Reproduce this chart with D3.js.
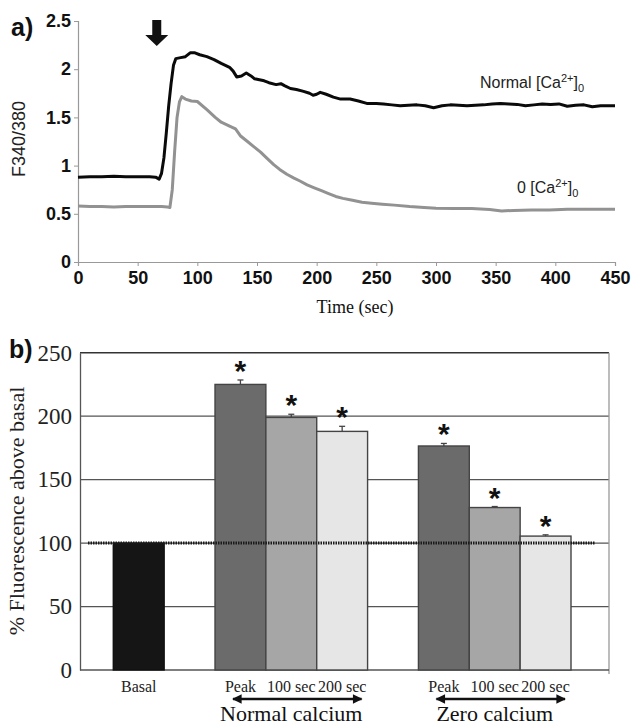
<!DOCTYPE html>
<html><head><meta charset="utf-8">
<script src="https://cdn.jsdelivr.net/npm/d3@7/dist/d3.min.js"></script>
<style>body{margin:0;background:#fff}svg{display:block}</style>
</head><body><svg id="c" width="633" height="725"></svg>
<script>
// ---------- Panel a data ----------
const timeNormal = [0,10,20,30,40,50,60,65,68,70,72,74,76,78,80,82,86,90,94,98,102,108,114,120,127,130,133,137,141,145,148,152,156,160,166,170,173,178,183,189,194,197,200,203,208,214,220,228,235,242,250,256,263,270,277,284,291,298,305,312,319,326,333,340,347,354,361,368,375,382,389,396,403,410,417,424,431,438,445,450];
const ratioNormal = [0.88,0.885,0.885,0.89,0.885,0.885,0.885,0.88,0.86,0.92,
  1.08,1.34,1.62,1.85,2.04,2.11,2.12,2.13,2.17,2.17,
  2.15,2.13,2.10,2.06,2.02,1.98,1.92,1.93,1.96,1.93,
  1.90,1.89,1.88,1.86,1.84,1.85,1.83,1.80,1.79,1.77,
  1.75,1.73,1.74,1.76,1.74,1.71,1.69,1.69,1.67,1.645,
  1.645,1.64,1.63,1.62,1.625,1.63,1.62,1.60,1.62,1.63,
  1.625,1.62,1.625,1.63,1.64,1.645,1.64,1.635,1.62,1.63,
  1.64,1.635,1.64,1.615,1.625,1.63,1.61,1.62,1.62,1.62];
const timeZero = [0,10,20,30,40,50,60,70,75,77,79,81,83,85,87,90,95,100,108,115,120,127,132,136,142,147,153,158,164,169,175,181,186,192,198,204,210,216,222,230,238,246,255,265,278,290,300,315,330,345,355,365,380,395,410,425,440,450];
const ratioZero = [0.58,0.575,0.575,0.57,0.575,0.575,0.575,0.575,0.57,0.565,
  0.75,1.15,1.50,1.66,1.715,1.69,
  1.67,1.665,1.58,1.50,1.45,1.41,1.38,1.31,
  1.25,1.20,1.14,1.08,1.01,0.96,0.91,0.87,
  0.84,0.80,0.77,0.74,0.71,0.68,0.66,0.64,
  0.62,0.61,0.60,0.59,0.575,0.565,0.557,0.555,
  0.555,0.545,0.53,0.535,0.54,0.54,0.547,0.547,
  0.547,0.547];
const aXTicks = [0,50,100,150,200,250,300,350,400,450];
const aYTicks = [0,0.5,1,1.5,2,2.5];

// ---------- Panel b data ----------
const barSlots = ["basal","gap1","nPeak","n100","n200","gap2","zPeak","z100","z200"];
const barKeys = ["basal","nPeak","n100","n200","zPeak","z100","z200"];
const barLabels = ["Basal","Peak","100 sec","200 sec","Peak","100 sec","200 sec"];
const barValues = [100,225,199,188,176.5,128,105.5];
const barErrors = [0,3.5,2.5,4,2,0.8,1];
const barSignif = [false,true,true,true,true,true,true];
const barColors = ["#151515","#6b6b6b","#a6a6a6","#e6e6e6","#6b6b6b","#a6a6a6","#e6e6e6"];
const groups = [{name:"Normal calcium", from:"nPeak", to:"n200"},{name:"Zero calcium", from:"zPeak", to:"z200"}];
const bYTicks = [0,50,100,150,200,250];
const baseline = 100;

const svg = d3.select("#c");
const SANS = "'Liberation Sans', Arial, sans-serif";
const SERIF = "'Liberation Serif', 'Times New Roman', serif";

// ================= Panel a =================
const ax = d3.scaleLinear().domain([0,450]).range([78,615]);
const ay = d3.scaleLinear().domain([0,2.5]).range([262,21]);
const ga = svg.append("g");

ga.append("g").attr("transform","translate(0,262)")
  .call(d3.axisBottom(ax).tickValues(aXTicks).tickSize(4).tickPadding(5))
  .call(g=>{g.select(".domain").attr("stroke","#999").attr("stroke-width",1.2);
    g.selectAll(".tick line").attr("stroke","#999");
    g.selectAll("text").attr("font-family",SANS).attr("font-weight","bold").attr("font-size",18).attr("fill","#111");});
ga.append("g").attr("transform","translate(78,0)")
  .call(d3.axisLeft(ay).tickValues(aYTicks).tickFormat(d3.format("~g")).tickSize(4).tickPadding(3))
  .call(g=>{g.select(".domain").attr("stroke","#999").attr("stroke-width",1.2);
    g.selectAll(".tick line").attr("stroke","#999");
    g.selectAll("text").attr("font-family",SANS).attr("font-weight","bold").attr("font-size",18).attr("fill","#111");});

const line = d3.line().x(d=>ax(d[0])).y(d=>ay(d[1]));
ga.append("path").datum(d3.zip(timeZero,ratioZero)).attr("d",line)
  .attr("fill","none").attr("stroke","#929292").attr("stroke-width",3).attr("stroke-linejoin","round");
ga.append("path").datum(d3.zip(timeNormal,ratioNormal)).attr("d",line)
  .attr("fill","none").attr("stroke","#0a0a0a").attr("stroke-width",3).attr("stroke-linejoin","round");

// arrow (stimulus)
const arrowT = 66, arrowTop = 2.5, arrowTip = 2.24;
const axc = ax(arrowT);
ga.append("path")
  .attr("d",`M${axc-4.5},${ay(arrowTop)-1} L${axc+4.5},${ay(arrowTop)-1} L${axc+4.5},${ay(arrowTip)-11} L${axc+11.5},${ay(arrowTip)-11} L${axc},${ay(arrowTip)} L${axc-11.5},${ay(arrowTip)-11} L${axc-4.5},${ay(arrowTip)-11} Z`)
  .attr("fill","#111");

// labels
ga.append("text").attr("x",11).attr("y",36).text("a)")
  .attr("font-family",SANS).attr("font-weight","bold").attr("font-size",25).attr("fill","#111");
ga.append("text").attr("transform","translate(25,139) rotate(-90)").attr("text-anchor","middle").text("F340/380")
  .attr("font-family",SANS).attr("font-size",18).attr("fill","#222");
ga.append("text").attr("x",355).attr("y",313).attr("text-anchor","middle").text("Time (sec)")
  .attr("font-family",SERIF).attr("font-size",18).attr("fill","#111");

function caLabel(x,y,prefix){
  const t = ga.append("text").attr("x",x).attr("y",y)
    .attr("font-family",SANS).attr("font-size",16).attr("fill","#222");
  t.append("tspan").text(prefix+"[Ca");
  t.append("tspan").attr("dy",-6).attr("font-size",11).text("2+");
  t.append("tspan").attr("dy",6).text("]");
  t.append("tspan").attr("dy",4).attr("font-size",11).text("0");
}
caLabel(480,88,"Normal ");
caLabel(517,193,"0 ");

// ================= Panel b =================
const by = d3.scaleLinear().domain([0,250]).range([670,352.7]);
const bx = d3.scaleBand().domain(barSlots).range([113.3,571]).padding(0);
const bLeft = 80, bRight = 609;
const gb = svg.append("g");

// gridlines
gb.selectAll(".grid").data(bYTicks.filter(d=>d>0)).join("line")
  .attr("x1",bLeft).attr("x2",bRight).attr("y1",d=>by(d)).attr("y2",d=>by(d))
  .attr("stroke",d=>d===250?"#333":"#555").attr("stroke-width",d=>d===250?1.6:1.3);
// right border
gb.append("line").attr("x1",bRight).attr("x2",bRight).attr("y1",by(250)).attr("y2",by(0)+4)
  .attr("stroke","#999").attr("stroke-width",1.3);

// y axis
gb.append("g").attr("transform",`translate(${bLeft},0)`)
  .call(d3.axisLeft(by).tickValues(bYTicks).tickSize(0).tickPadding(8))
  .call(g=>{g.select(".domain").attr("stroke","#555").attr("stroke-width",1.3);
    g.selectAll("text").attr("font-family",SERIF).attr("font-size",23).attr("fill","#222");});
// x baseline
gb.append("line").attr("x1",bLeft).attr("x2",bRight).attr("y1",by(0)).attr("y2",by(0)).attr("stroke","#555").attr("stroke-width",1.5);

const bars = barKeys.map((k,i)=>({key:k,label:barLabels[i],v:barValues[i],e:barErrors[i],s:barSignif[i],c:barColors[i]}));
gb.selectAll(".bar").data(bars).join("rect")
  .attr("x",d=>bx(d.key)).attr("width",bx.bandwidth())
  .attr("y",d=>by(d.v)).attr("height",d=>by(0)-by(d.v))
  .attr("fill",d=>d.c).attr("stroke",d=>d.key==="basal"?"#111":"#444").attr("stroke-width",1.4);

// error bars
const eb = bars.filter(d=>d.e>0);
gb.selectAll(".ev").data(eb).join("line")
  .attr("x1",d=>bx(d.key)+bx.bandwidth()/2).attr("x2",d=>bx(d.key)+bx.bandwidth()/2)
  .attr("y1",d=>by(d.v)).attr("y2",d=>by(d.v+d.e)).attr("stroke","#444").attr("stroke-width",1.3);
gb.selectAll(".ec").data(eb).join("line")
  .attr("x1",d=>bx(d.key)+bx.bandwidth()/2-3).attr("x2",d=>bx(d.key)+bx.bandwidth()/2+3)
  .attr("y1",d=>by(d.v+d.e)).attr("y2",d=>by(d.v+d.e)).attr("stroke","#444").attr("stroke-width",1.3);

// asterisks
gb.selectAll(".ast").data(bars.filter(d=>d.s)).join("text")
  .attr("x",d=>bx(d.key)+bx.bandwidth()/2).attr("y",d=>by(d.v+d.e)+1)
  .attr("text-anchor","middle").text("*")
  .attr("font-family",SANS).attr("font-weight","bold").attr("font-size",30).attr("fill","#111");

// baseline dotted line
gb.append("line").attr("x1",88).attr("x2",595).attr("y1",by(baseline)).attr("y2",by(baseline))
  .attr("stroke","#1a1a1a").attr("stroke-width",3).attr("stroke-dasharray","1.5,1");

// category labels
gb.selectAll(".cat").data(bars).join("text")
  .attr("x",d=>bx(d.key)+bx.bandwidth()/2).attr("y",692).attr("text-anchor","middle").text(d=>d.label)
  .attr("font-family",SERIF).attr("font-size",16).attr("fill","#222");

// group arrows + labels
const defs = svg.append("defs");
defs.append("marker").attr("id","ah").attr("viewBox","0 0 10 10").attr("refX",9).attr("refY",5)
  .attr("markerWidth",5.5).attr("markerHeight",4).attr("orient","auto-start-reverse").attr("markerUnits","strokeWidth")
  .append("path").attr("d","M0,0 L10,5 L0,10 Z").attr("fill","#111");
groups.forEach(g=>{
  const x0 = bx(g.from), x1 = bx(g.to)+bx.bandwidth();
  gb.append("line").attr("x1",x0+18).attr("x2",x1-6).attr("y1",699).attr("y2",699)
    .attr("stroke","#111").attr("stroke-width",2.4)
    .attr("marker-start","url(#ah)").attr("marker-end","url(#ah)");
  gb.append("text").attr("x",(x0+x1)/2).attr("y",721).attr("text-anchor","middle").text(g.name)
    .attr("font-family",SERIF).attr("font-size",22).attr("fill","#111");
});

// panel b labels
gb.append("text").attr("x",9).attr("y",358).text("b)")
  .attr("font-family",SANS).attr("font-weight","bold").attr("font-size",25).attr("fill","#111");
gb.append("text").attr("transform","translate(24,511) rotate(-90)").attr("text-anchor","middle").text("% Fluorescence above basal")
  .attr("font-family",SERIF).attr("font-size",22).attr("fill","#222");
</script></body></html>
